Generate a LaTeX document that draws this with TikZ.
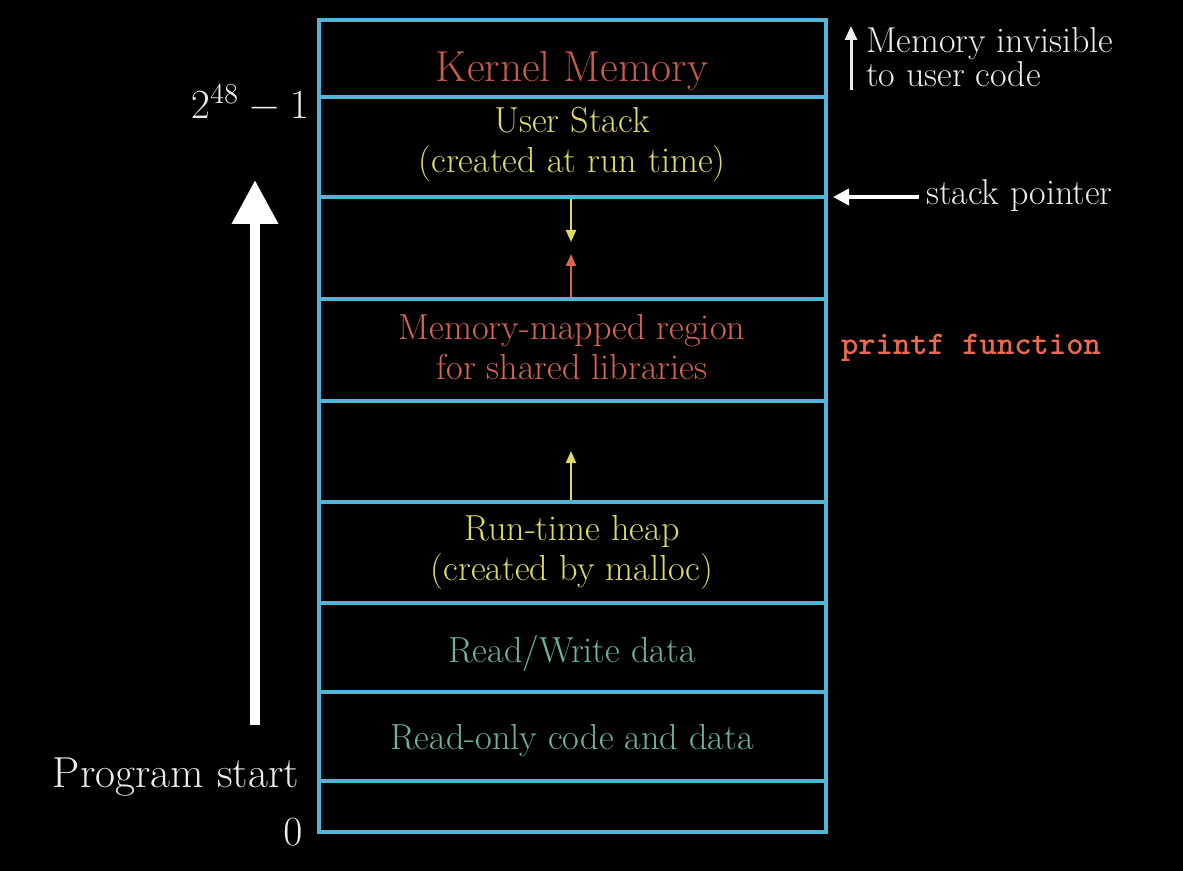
\documentclass[tikz,border=0pt]{standalone}
\usepackage{amsmath}
\usepackage{xcolor}
\usetikzlibrary{arrows.meta}
\usetikzlibrary{positioning}
\definecolor{boxblue}{RGB}{82,180,214}
\definecolor{kernred}{RGB}{200,90,76}
\definecolor{mmred}{RGB}{214,102,84}
\definecolor{stackyel}{RGB}{222,218,104}
\definecolor{datagreen}{RGB}{110,180,156}
\definecolor{printfred}{RGB}{236,106,80}
\definecolor{labelgray}{RGB}{236,236,236}
\newcommand{\kernfont}{\fontsize{21.7}{25}\selectfont}
\newcommand{\regfont}{\fontsize{18.1}{20}\selectfont}
\newcommand{\sidefont}{\fontsize{18}{14}\selectfont}
\newcommand{\bigfont}{\fontsize{21.7}{25}\selectfont}
\newcommand{\mathsize}{\fontsize{19.5}{23}\selectfont}
\newcommand{\codefont}{\fontsize{16.5}{20}\selectfont\ttfamily\bfseries}
\tikzset{region/.style={font=\regfont, align=center}}
\tikzset{sidelabel/.style={text=labelgray}}
\tikzset{wall/.style={boxblue, line width=2pt}}

\begin{document}
\begin{tikzpicture}[x=0.5pt,y=-0.5pt]
\fill[black] (0,0) rectangle (1183,871);
\useasboundingbox (0,0) rectangle (1183,871);
% address space
\draw[wall] (319,20) rectangle (826,832);
\foreach \y in {97,197,299,401,502,603,692,781}
  \draw[wall] (319,\y) -- (826,\y);
\node[region, text=kernred, font=\kernfont] (kernel) at (572,71) {Kernel Memory};
\node[region, text=stackyel] (stack) at (572,144) {User Stack\\(created at run time)};
\node[region, text=mmred] (mmap) at (572,347) {Memory-mapped region\\for shared libraries};
\node[region, text=stackyel] (heap) at (572,552) {Run-time heap\\(created by malloc)};
\node[region, text=datagreen] (rwdata) at (572,653) {Read/Write data};
\node[region, text=datagreen] (rodata) at (572,741) {Read-only code and data};
% growth arrows
\coordinate (stackgrow0) at (571,199);
\coordinate (stackgrow1) at (571,242);
\coordinate (mmgrow0) at (571,297);
\coordinate (mmgrow1) at (571,254);
\coordinate (heapgrow0) at (571,500);
\coordinate (heapgrow1) at (571,451);
\draw[stackyel, line width=1pt, -{Triangle[length=6pt,width=5pt]}] (stackgrow0) -- (stackgrow1);
\draw[mmred, line width=1pt, -{Triangle[length=6pt,width=5pt]}] (mmgrow0) -- (mmgrow1);
\draw[stackyel, line width=1pt, -{Triangle[length=6pt,width=5pt]}] (heapgrow0) -- (heapgrow1);
% left side
\node[sidelabel, anchor=east, font=\mathsize] (top) at (316,103) {$2^{48}-1$};
\node[sidelabel, anchor=east, font=\bigfont] (start) at (306,777) {Program start};
\node[sidelabel, font=\mathsize] (zero) at (293,832) {$0$};
\coordinate (upbase) at (255,725);
\coordinate (uptip) at (255,180);
\draw[white, line width=5pt, -{Triangle[length=22pt,width=22pt]}] (upbase) -- (uptip);
% right side
\node[sidelabel, anchor=west, align=left, font=\sidefont] (invisible) at (859,57) {Memory invisible\\to user code};
\coordinate (kbase) at (851,90);
\coordinate (ktip) at (851,26);
\draw[labelgray, line width=1.5pt, -{Triangle[length=7pt,width=6pt]}] (kbase) -- (ktip);
\node[sidelabel, anchor=west, font=\sidefont] (sp) at (919,196) {stack pointer};
\coordinate (sptip) at (833,197);
\draw[white, line width=2pt, -{Triangle[length=8pt,width=8pt]}] (sp.west |- sptip) -- (sptip);
\node[anchor=west, text=printfred, font=\codefont] (printf) at (834,348) {printf function};
\end{tikzpicture}
\end{document}
